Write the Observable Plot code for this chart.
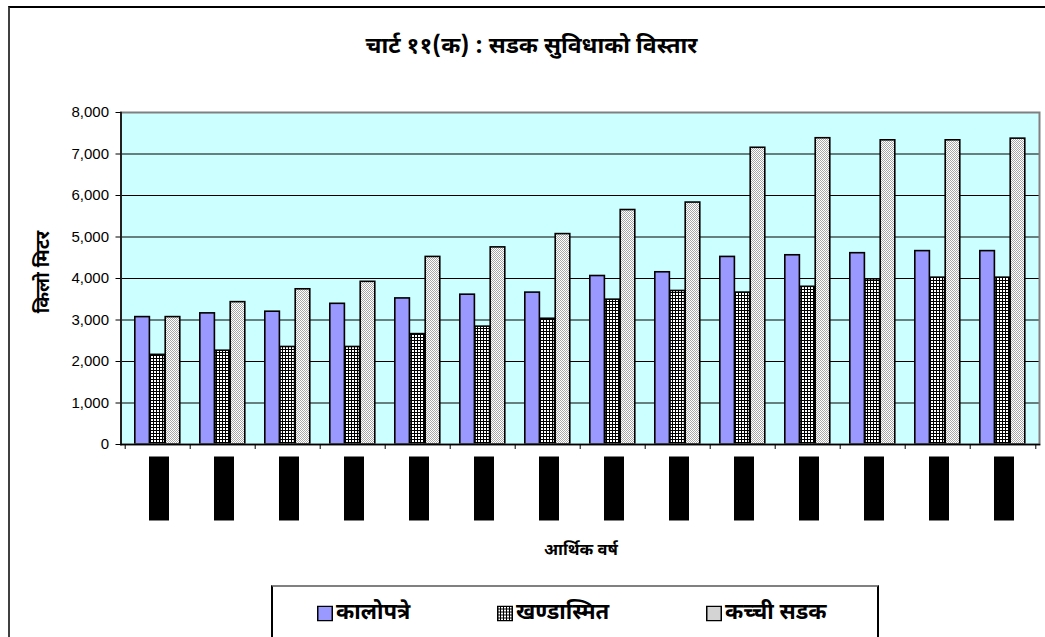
<!DOCTYPE html>
<html>
<head>
<meta charset="utf-8">
<script src="https://cdn.jsdelivr.net/npm/d3@7"></script>
<script src="https://cdn.jsdelivr.net/npm/@observablehq/plot@0.6"></script>
<style>
  body { margin: 0; background: #fff; }
  #page { position: relative; width: 1045px; height: 637px; overflow: hidden; background: #fff;
          font-family: "Noto Sans Devanagari", "Lohit Devanagari", "Noto Sans", sans-serif; }
  #outer { position: absolute; left: 8px; top: 6px; width: 1100px; height: 700px;
           border-left: 2px solid #404040; border-top: 2px solid #000; }
  #title { position: absolute; left: 0; width: 1063px; top: 47px; transform: translateY(-50%); text-align: center;
           font-weight: bold; font-size: 23px; color: #000; white-space: nowrap; }
  #chart { position: absolute; left: 0; top: 100px; }
  #ylabel { position: absolute; left: 44px; top: 272px; transform: translate(-50%, -50%) rotate(-90deg);
            font-weight: bold; font-size: 19px; white-space: nowrap; color: #000; }
  #xlabel { position: absolute; left: 581px; top: 551px; transform: translate(-50%, -50%);
            font-weight: bold; font-size: 16.5px; white-space: nowrap; color: #000; }
  #legend { position: absolute; left: 271px; top: 585px; width: 604px; height: 80px;
            border-top: 2px solid #808080; border-left: 2px solid #000; border-right: 2px solid #000; }
  .item { position: absolute; top: 26px; transform: translateY(-50%); display: flex; align-items: center; font-weight: bold;
          font-size: 22px; white-space: nowrap; color: #000; }
  .item svg { margin-right: 3px; }
</style>
</head>
<body>
<div id="page">
  <div id="outer"></div>
  <div id="title">चार्ट ११(क) : सडक सुविधाको विस्तार</div>
  <div id="chart"></div>
  <div id="ylabel">किलो मिटर</div>
  <div id="xlabel">आर्थिक वर्ष</div>
  <div id="legend"></div>
</div>
<script>
// ---- data ----
const years = ["२०४७/४८", "२०४८/४९", "२०४९/५०", "२०५०/५१", "२०५१/५२", "२०५२/५३", "२०५३/५४",
               "२०५४/५५", "२०५५/५६", "२०५६/५७", "२०५७/५८", "२०५८/५९", "२०५९/६०", "२०६०/६१"];
const seriesNames = ["कालोपत्रे", "खण्डास्मित", "कच्ची सडक"];
const kalopatre  = [3070, 3160, 3200, 3390, 3520, 3610, 3660, 4060, 4150, 4520, 4560, 4610, 4660, 4660];
const khandasmit = [2160, 2260, 2350, 2350, 2660, 2840, 3030, 3490, 3700, 3660, 3800, 3980, 4020, 4020];
const kachchi    = [3070, 3430, 3740, 3920, 4520, 4750, 5070, 5650, 5830, 7150, 7380, 7330, 7330, 7370];
const yTicks = [0, 1000, 2000, 3000, 4000, 5000, 6000, 7000, 8000];

const seriesValues = [kalopatre, khandasmit, kachchi];
const seriesFills = ["#9999FF", "url(#pgrid)", "url(#pdots)"];

// ---- layout ----
const W = 1045, H = 470, ML = 120.5, MR = 6, MT = 12, MB = 126;
const step = (W - ML - MR) / years.length;
const padL = 9.8, bw = 15.2;

const barMarks = seriesValues.map((vals, k) =>
  Plot.barY(years.map((y, i) => ({year: y, value: vals[i]})), {
    x: "year", y: "value",
    fill: seriesFills[k], stroke: "#000", strokeWidth: 1.6,
    insetLeft: padL + bw * k, insetRight: step - padL - bw * (k + 1)
  })
);

const chart = Plot.plot({
  width: W, height: H,
  marginLeft: ML, marginRight: MR, marginTop: MT, marginBottom: MB,
  style: {fontFamily: "'Liberation Sans', Arial, sans-serif", fontSize: "15px", color: "#000", background: "transparent", overflow: "visible"},
  x: {type: "band", domain: years, padding: 0, axis: null},
  y: {domain: [0, 8000], axis: null},
  marks: [
    Plot.frame({fill: "#CCFFFF", stroke: "none"}),
    Plot.ruleY(yTicks.slice(1), {stroke: "#000", strokeWidth: 1}),
    ...barMarks,
    Plot.frame({stroke: "#808080", strokeWidth: 2}),
    Plot.frame({anchor: "left", stroke: "#000", strokeWidth: 1.5}),
    Plot.frame({anchor: "bottom", stroke: "#000", strokeWidth: 1.5}),
    Plot.axisY(yTicks, {tickSize: 5, tickPadding: 7, tickFormat: d3.format(","), label: null, fontSize: 15}),
    Plot.ruleX(years, {x: d => d, dx: -step / 2, y1: 0, y2: 0, insetBottom: -5, stroke: "#000"}),
    Plot.ruleX(years.slice(-1), {x: d => d, dx: step / 2, y1: 0, y2: 0, insetBottom: -5, stroke: "#000"}),
    Plot.axisX(years, {tickSize: 0, tickPadding: 12, tickRotate: -90, label: null, fontSize: 14,
                       fontFamily: "'Noto Sans Devanagari', 'Lohit Devanagari', sans-serif"})
  ]
});
document.getElementById("chart").appendChild(chart);

// patterns and the label-background filter
const ns = "http://www.w3.org/2000/svg";
const defs = document.createElementNS(ns, "defs");
defs.innerHTML = `
  <pattern id="pgrid" width="3" height="3" patternUnits="userSpaceOnUse">
    <rect width="3" height="3" fill="#000"/><rect x="1" y="1" width="2" height="2" fill="#fff"/>
  </pattern>
  <pattern id="pdots" width="2" height="2" patternUnits="userSpaceOnUse">
    <rect width="2" height="2" fill="#fff"/><rect width="1" height="1" fill="#a8a8a8"/><rect x="1" y="1" width="1" height="1" fill="#a8a8a8"/>
  </pattern>
  <filter id="tbg" x="0" y="0" width="1" height="1">
    <feFlood flood-color="#000"/><feComposite in="SourceGraphic" operator="over"/>
  </filter>`;
chart.insertBefore(defs, chart.firstChild);
chart.querySelectorAll('g[aria-label="x-axis tick label"] text').forEach(t => {
  t.setAttribute("filter", "url(#tbg)");
  t.setAttribute("letter-spacing", "2");
});

// legend
const legendLeft = [44, 224, 433];
const legend = document.getElementById("legend");
seriesNames.forEach((name, k) => {
  const it = document.createElement("div");
  it.className = "item";
  it.style.left = legendLeft[k] + "px";
  it.innerHTML = `<svg width="16" height="16"><rect x="0.75" y="0.75" width="14.5" height="14.5" fill="${seriesFills[k]}" stroke="#000" stroke-width="1.5"/></svg><span>${name}</span>`;
  legend.appendChild(it);
});
</script>
</body>
</html>
